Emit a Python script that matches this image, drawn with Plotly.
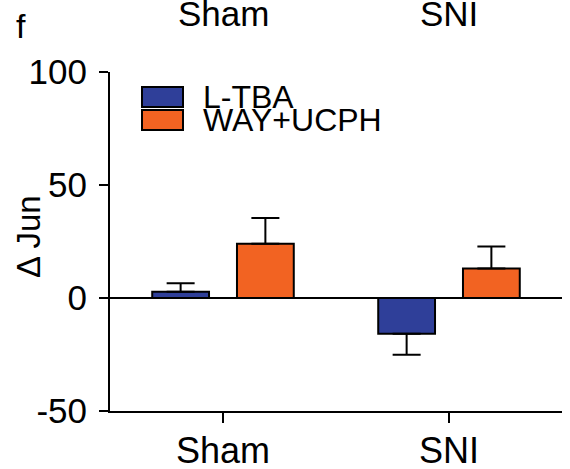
import plotly.graph_objects as go

# ---- data ----
categories = ["Sham", "SNI"]
top_labels = ["Sham", "SNI"]
series_names = ["L-TBA", "WAY+UCPH"]
ltba_values = [2.8, -15.8]
ltba_errors = [3.7, 9.3]
way_values = [24.0, 13.1]
way_errors = [11.4, 9.7]
series_colors = ["#2F3F99", "#F26322"]
y_ticks = [-50, 0, 50, 100]
y_tick_labels = ["-50", "0", "50", "100"]
y_title = "Δ Jun"
panel_label = "f"

FONT = "Liberation Sans, Arial, Helvetica, sans-serif"

# plot-area geometry in pixels (for paper conversions)
W, H = 570, 469
ML, MR, MT, MB = 110, 8, 72, 58
PW, PH = W - ML - MR, H - MT - MB


def px_x(p):
    return (p - ML) / PW


def px_y(p):
    return (H - MB - p) / PH


fig = go.Figure()

all_values = [ltba_values, way_values]
all_errors = [ltba_errors, way_errors]
for name, vals, errs, col in zip(series_names, all_values, all_errors, series_colors):
    plus = [e if v >= 0 else 0 for v, e in zip(vals, errs)]
    minus = [e if v < 0 else 0 for v, e in zip(vals, errs)]
    fig.add_trace(go.Bar(
        name=name, x=categories, y=vals,
        marker=dict(color=col, line=dict(color="black", width=2)),
        error_y=dict(type="data", symmetric=False, array=plus, arrayminus=minus,
                     color="black", thickness=2, width=14),
        showlegend=False, hoverinfo="skip",
    ))

# custom legend (wide swatches)
legend_rows_y = [97, 120]
for name, col, cy in zip(series_names, series_colors, legend_rows_y):
    fig.add_shape(type="rect", xref="paper", yref="paper",
                  x0=px_x(142), x1=px_x(183), y0=px_y(cy + 10), y1=px_y(cy - 10),
                  fillcolor=col, line=dict(color="black", width=2))
    fig.add_annotation(xref="paper", yref="paper", x=px_x(201), y=px_y(cy),
                       xanchor="left", yanchor="middle", showarrow=False,
                       text=name, font=dict(family=FONT, size=32, color="black"))

# top category labels
for cat, lab in zip(categories, top_labels):
    fig.add_annotation(xref="x", yref="paper", x=cat, y=px_y(13),
                       xanchor="center", yanchor="middle", showarrow=False,
                       text=lab, font=dict(family=FONT, size=35, color="black"))

# panel label
fig.add_annotation(xref="paper", yref="paper", x=px_x(14), y=px_y(26),
                   xanchor="left", yanchor="middle", showarrow=False,
                   text=panel_label, font=dict(family=FONT, size=34, color="black"))

# y-axis title
fig.add_annotation(xref="paper", yref="paper", x=px_x(28), y=px_y(237),
                   xanchor="center", yanchor="middle", showarrow=False, textangle=-90,
                   text=y_title, font=dict(family=FONT, size=33, color="black"))

fig.update_layout(
    width=W, height=H,
    margin=dict(l=ML, r=MR, t=MT, b=MB, pad=0, autoexpand=False),
    paper_bgcolor="white", plot_bgcolor="white",
    barmode="group", bargap=0.25, bargroupgap=0.33,
    font=dict(family=FONT, color="black"),
    hovermode=False,
    xaxis=dict(range=[-0.5, 1.5], showline=True, linecolor="black", linewidth=2,
               ticks="outside", ticklen=10, tickwidth=2, tickcolor="black",
               ticklabelstandoff=-3, automargin=False,
               tickfont=dict(family=FONT, size=36, color="black"),
               showgrid=False, zeroline=False, fixedrange=True),
    yaxis=dict(range=[-50, 100], tickvals=y_ticks, ticktext=y_tick_labels,
               showline=True, linecolor="black", automargin=False,
               linewidth=2, ticks="outside", ticklen=9, tickwidth=2, tickcolor="black",
               ticklabelstandoff=5,
               tickfont=dict(family=FONT, size=35, color="black"),
               showgrid=False, zeroline=True, zerolinecolor="black", zerolinewidth=2,
               fixedrange=True),
)

fig.write_html("out.html", config={"displayModeBar": False, "staticPlot": True},
               post_script="document.body.style.margin='0';")
